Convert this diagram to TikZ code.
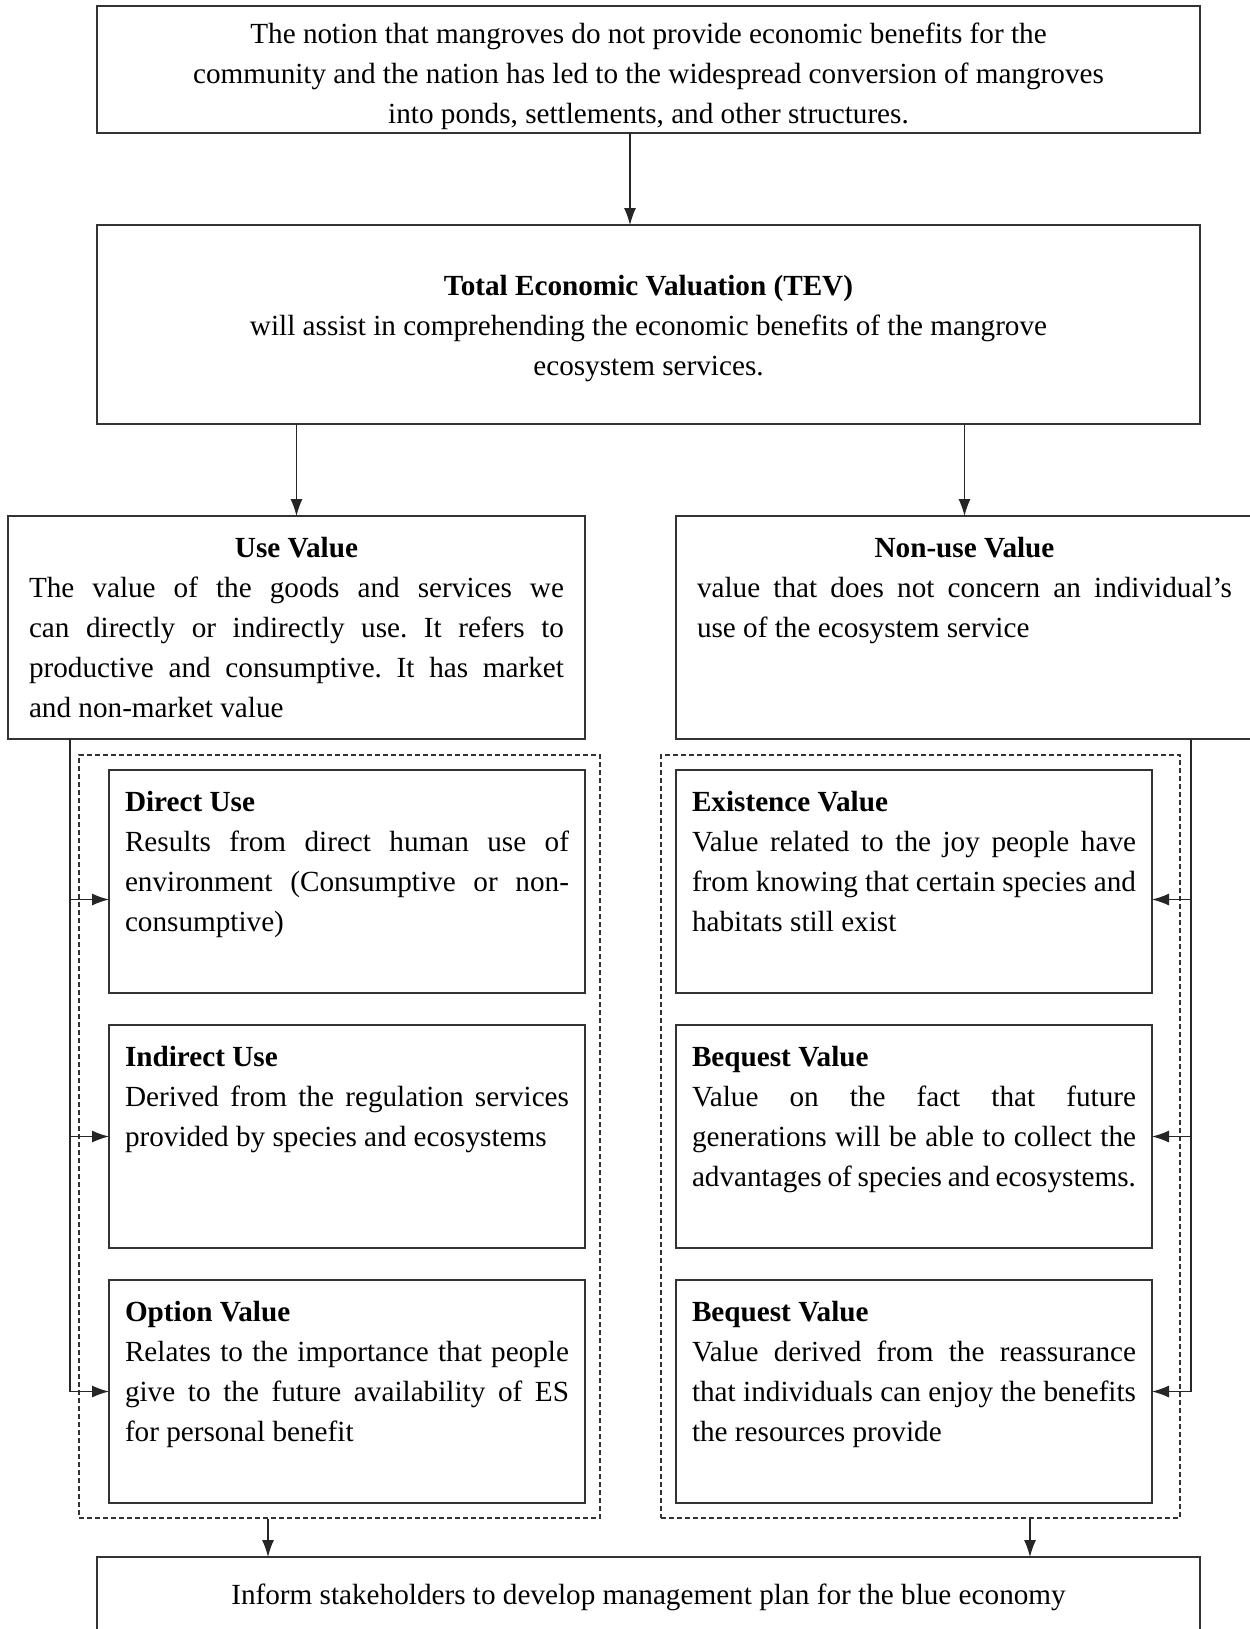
\documentclass[tikz,border=0pt]{standalone}
\usepackage{fontspec}
\setmainfont{Liberation Serif}
\usetikzlibrary{positioning}
\usetikzlibrary{fit}
\usetikzlibrary{arrows.meta}

\newcommand{\boxfont}{\fontsize{14.6pt}{20pt}\selectfont\frenchspacing}
\newcommand{\boxtitle}[1]{\makebox[\linewidth]{\textbf{#1}}\par}

\tikzset{
  mainbox/.style={draw=black!80, line width=1pt, inner sep=0pt, outer sep=0pt, align=flush center, text width=551.5pt, font=\boxfont},
  valbox/.style={draw=black!80, line width=1pt, outer sep=0pt, align=justify, inner ysep=8pt, text height=12.75pt, text depth=82.75pt, font=\boxfont},
  usebox/.style={valbox, text width=267.5pt, inner xsep=10.5pt},
  kindbox/.style={valbox, text width=222pt, inner xsep=8pt},
  grpbox/.style={draw=black!80, line width=0.6pt, dash pattern=on 2.5pt off 1.5pt, inner sep=7.5pt},
  link/.style={draw=black!85, line width=0.6pt},
  arr/.style={link, -{Latex[length=8.5pt,width=6pt]}}
}

\begin{document}
\begin{tikzpicture}[x=0.5pt, y=-0.5pt]
    \useasboundingbox (0,0) rectangle (1249,1629);

    \node[mainbox, anchor=north, text height=18.75pt, text depth=44.75pt] (top) at (648.5,6) {The notion that mangroves do not provide economic benefits for the\\ community and the nation has led to the widespread conversion of mangroves\\ into ponds, settlements, and other structures.};
    \node[mainbox, anchor=north, text height=35.25pt, text depth=64.25pt] (tev) at (648.5,225) {\textbf{Total Economic Valuation (TEV)}\\ will assist in comprehending the economic benefits of the mangrove\\ ecosystem services.};

    \node[usebox, anchor=north west] (use) at (8,516) {\boxtitle{Use Value}The value of the goods and services we\linebreak can directly or indirectly use. It refers to\linebreak productive and consumptive. It has market\linebreak and non-market value};
    \node[usebox, anchor=north west] (nonuse) at (676,516) {\boxtitle{Non-use Value}value that does not concern an individual's\linebreak use of the ecosystem service};

    % use value kinds
    \node[kindbox, anchor=north west] (direct) at (109,770) {\textbf{Direct Use}\par Results from direct human use of\linebreak environment (Consumptive or non-\linebreak consumptive)};
    \node[kindbox, below=16pt of direct] (indirect) {\textbf{Indirect Use}\par Derived from the regulation services\linebreak provided by species and ecosystems};
    \node[kindbox, below=16pt of indirect] (option) {\textbf{Option Value}\par Relates to the importance that people\linebreak give to the future availability of ES\linebreak for personal benefit};

    % non-use value kinds
    \node[kindbox, anchor=north west] (exist) at (676,770) {\textbf{Existence Value}\par Value related to the joy people have\linebreak from knowing that certain species and\linebreak habitats still exist};
    \node[kindbox, below=16pt of exist] (bequest) {\textbf{Bequest Value}\par Value on the fact that future\linebreak generations will be able to collect the\linebreak advantages of species and ecosystems.};
    \node[kindbox, below=16pt of bequest] (legacy) {\textbf{Bequest Value}\par Value derived from the reassurance\linebreak that individuals can enjoy the benefits\linebreak the resources provide};

    \coordinate (usegrpnw) at ([xshift=-7.5pt]direct.north west);
    \coordinate (nongrpse) at ([xshift=6.5pt]legacy.south east);
    \node[grpbox, fit=(usegrpnw)(option.south east)] (usegrp) {};
    \node[grpbox, fit=(exist.north west)(nongrpse)] (nongrp) {};

    \node[mainbox, anchor=north, text height=23.5pt, text depth=18pt] (plan) at (648.5,1557) {Inform stakeholders to develop management plan for the blue economy};

    \coordinate (toparr) at ([xshift=-9.25pt]top.south);
    \coordinate (usebus) at ([xshift=31pt]use.south west);
    \coordinate (nonbus) at ([xshift=-31pt]nonuse.south east);
    \coordinate (directin) at ([yshift=-9pt]direct.west);
    \coordinate (existin) at ([yshift=-9pt]exist.east);
    \coordinate (planl) at ([xshift=85.5pt]plan.north west);
    \coordinate (planr) at ([xshift=-85pt]plan.north east);

    \draw[arr] (toparr) -- (toparr |- tev.north);
    \draw[arr] (tev.south -| use.north) -- (use.north);
    \draw[arr] (tev.south -| nonuse.north) -- (nonuse.north);

    \draw[link] (usebus) -- (usebus |- option.west);
    \draw[arr] (usebus |- directin) -- (directin);
    \draw[arr] (usebus |- indirect.west) -- (indirect.west);
    \draw[arr] (usebus |- option.west) -- (option.west);

    \draw[link] (nonbus) -- (nonbus |- legacy.east);
    \draw[arr] (nonbus |- existin) -- (existin);
    \draw[arr] (nonbus |- bequest.east) -- (bequest.east);
    \draw[arr] (nonbus |- legacy.east) -- (legacy.east);

    \draw[arr] (usegrp.south -| planl) -- (planl);
    \draw[arr] (nongrp.south -| planr) -- (planr);
\end{tikzpicture}
\end{document}
